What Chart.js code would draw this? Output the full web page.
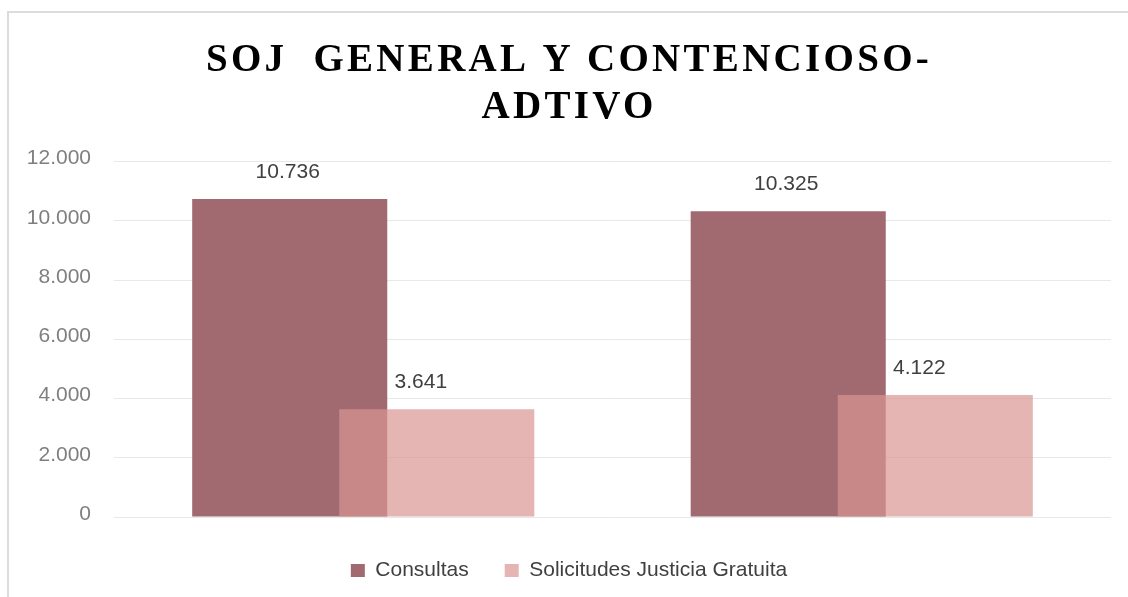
<!DOCTYPE html>
<html>
<head>
<meta charset="utf-8">
<script src="https://cdn.jsdelivr.net/npm/chart.js@4.4.1/dist/chart.umd.min.js"></script>
<style>
  html, body { margin: 0; padding: 0; background: #ffffff; }
  #wrap { position: relative; width: 1128px; height: 597px; overflow: hidden; background: #fff; }
  #frame { position: absolute; left: 7px; top: 11px; width: 1200px; height: 700px; border-top: 2px solid #dcdcdc; border-left: 2px solid #dcdcdc; box-sizing: border-box; }
  #c { position: absolute; left: 0; top: 0; }
</style>
</head>
<body>
<div id="wrap">
  <div id="frame"></div>
  <canvas id="c" width="1128" height="597"></canvas>
</div>
<script>
const titleLines = ['SOJ  GENERAL Y CONTENCIOSO-', 'ADTIVO'];
const categories = ['', ''];
const seriesNames = ['Consultas', 'Solicitudes Justicia Gratuita'];
const consultas = [10736, 10325];
const solicitudes = [3641, 4122];
const yTicks = [0, 2000, 4000, 6000, 8000, 10000, 12000];

const SANS = "'Liberation Sans Narrow', 'Liberation Sans', Arial, sans-serif";
const fmt = v => String(v).replace(/\B(?=(\d{3})+(?!\d))/g, '.');

const orderPlugin = {
  id: 'drawOrder',
  beforeDraw(chart) {
    const tb = chart.titleBlock;
    if (tb && !tb._lsPatched) {
      const orig = tb.draw;
      tb.draw = function (area) {
        const c = this.ctx;
        c.save();
        c.letterSpacing = '3.3px';
        orig.call(this, area);
        c.restore();
      };
      tb._lsPatched = true;
    }
  },
  beforeDatasetDraw(chart, args) {
    if (args.index === 1 && !chart._drawingTop) return false;
  },
  afterDatasetsDraw(chart) {
    chart._drawingTop = true;
    const meta = chart.getDatasetMeta(1);
    if (!meta.hidden) meta.controller.draw();
    chart._drawingTop = false;
    const ctx = chart.ctx;
    ctx.save();
    ctx.font = '21px ' + SANS;
    ctx.fillStyle = '#404040';
    ctx.textAlign = 'center';
    ctx.textBaseline = 'middle';
    const shifts = [-2, -16];
    chart.data.datasets.forEach((ds, di) => {
      const m = chart.getDatasetMeta(di);
      m.data.forEach((el, i) => {
        ctx.fillText(fmt(ds.data[i]), el.x + shifts[di], el.y - 27);
      });
    });
    ctx.restore();
  }
};

new Chart(document.getElementById('c'), {
  type: 'bar',
  data: {
    labels: categories,
    datasets: [
      { label: seriesNames[0], data: consultas, backgroundColor: '#A06A70', borderWidth: 0 },
      { label: seriesNames[1], data: solicitudes, backgroundColor: 'rgba(217,149,147,0.70)', borderWidth: 0 }
    ]
  },
  options: {
    responsive: false,
    animation: false,
    devicePixelRatio: 1,
    categoryPercentage: 0.59,
    barPercentage: 1.3265,
    layout: { padding: { left: 27, right: 17, top: 38, bottom: 6 } },
    scales: {
      x: {
        display: true, offset: true,
        grid: { display: false },
        border: { display: false },
        ticks: { display: false },
        afterFit(scale) { scale.height = 7; }
      },
      y: {
        min: 0, max: 12000,
        afterBuildTicks(scale) { scale.ticks = yTicks.map(v => ({ value: v })); },
        afterFit(scale) { scale.width = 87; },
        ticks: {
          padding: 23,
          labelOffset: -3,
          color: '#7f7f7f',
          font: { family: SANS, size: 21 },
          callback: v => fmt(v)
        },
        grid: { color: '#e8e8e8', lineWidth: 1, drawTicks: false },
        border: { display: false }
      }
    },
    plugins: {
      title: {
        display: true,
        text: titleLines,
        color: '#000000',
        font: { family: "'Liberation Serif', 'DejaVu Serif', serif", size: 39, weight: 'bold', lineHeight: 1.2 },
        padding: { top: 0, bottom: 30 }
      },
      legend: {
        position: 'bottom',
        labels: {
          boxWidth: 14,
          boxHeight: 13,
          padding: 36,
          color: '#404040',
          font: { family: SANS, size: 21 }
        }
      },
      tooltip: { enabled: false }
    }
  },
  plugins: [orderPlugin]
});
</script>
</body>
</html>
